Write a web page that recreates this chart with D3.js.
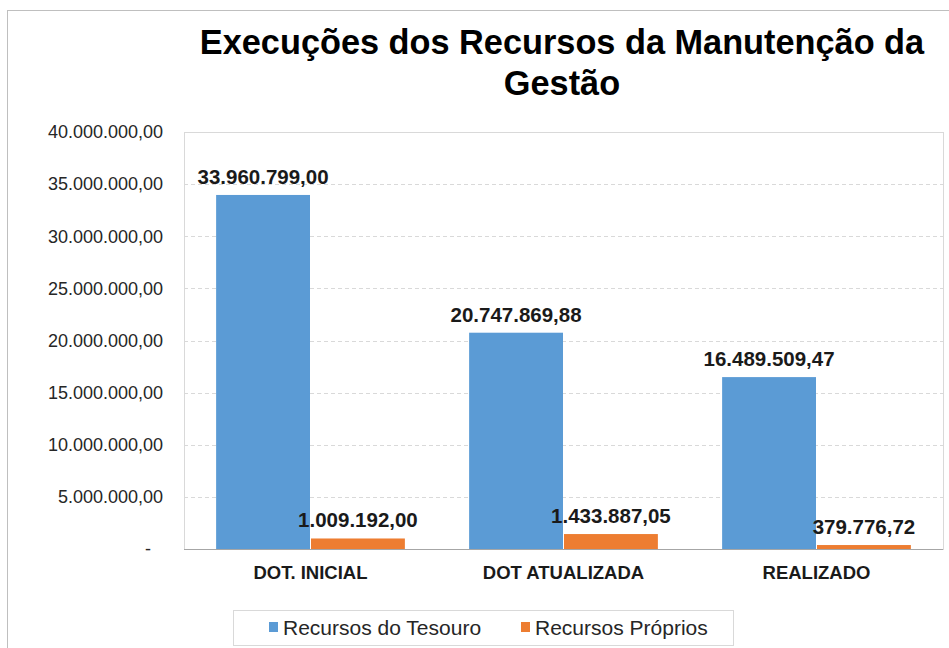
<!DOCTYPE html>
<html>
<head>
<meta charset="utf-8">
<script src="https://cdn.jsdelivr.net/npm/d3@7"></script>
<style>
  body { margin: 0; background: #fff; }
  text { font-family: "Liberation Sans", Arial, sans-serif; }
</style>
</head>
<body>
<div id="chart"></div>
<script>
// dados do gráfico
const categories = ["DOT. INICIAL", "DOT ATUALIZADA", "REALIZADO"];
const seriesNames = ["Recursos do Tesouro", "Recursos Próprios"];
const tesouro = [33960799.00, 20747869.88, 16489509.47];
const proprios = [1009192.00, 1433887.05, 379776.72];
const yTicks = [0, 5000000, 10000000, 15000000, 20000000, 25000000, 30000000, 35000000, 40000000];
const titleLines = ["Execuções dos Recursos da Manutenção da", "Gestão"];

const colors = { "Recursos do Tesouro": "#5b9bd5", "Recursos Próprios": "#ed7d31" };

const ptBR = d3.formatLocale({ decimal: ",", thousands: ".", grouping: [3], currency: ["R$", ""] });
const fmt = ptBR.format(",.2f");

const W = 949, H = 648;
const plot = { left: 184, right: 943, top: 132, bottom: 549 };

const svg = d3.select("#chart").append("svg")
    .attr("width", W)
    .attr("height", H);

// borda externa
svg.append("rect")
    .attr("x", 7.5).attr("y", 10.5)
    .attr("width", W + 20).attr("height", H + 20)
    .attr("fill", "none")
    .attr("stroke", "#bfbfbf");

// título
svg.append("text")
    .attr("text-anchor", "middle")
    .style("font-size", "34.3px")
    .style("font-weight", "bold")
    .attr("fill", "#000")
    .selectAll("tspan")
    .data(titleLines)
    .enter()
    .append("tspan")
    .attr("x", 562)
    .attr("y", (d, i) => 54 + i * 41)
    .text(d => d);

const data = categories.map((c, i) => ({
    category: c,
    values: [
        { name: seriesNames[0], value: tesouro[i] },
        { name: seriesNames[1], value: proprios[i] }
    ]
}));

const x0 = d3.scaleBand()
    .domain(categories)
    .range([plot.left, plot.right])
    .padding(0);

const bw = x0.bandwidth();
const x1 = d3.scaleBand()
    .domain(seriesNames)
    .range([bw * 0.125, bw * 0.875])
    .padding(0);

const y = d3.scaleLinear()
    .domain([0, 40000000])
    .range([plot.bottom, plot.top]);

// linhas de grade
svg.append("g")
    .selectAll("line")
    .data(yTicks.filter(d => d > 0))
    .enter()
    .append("line")
    .attr("x1", plot.left)
    .attr("x2", plot.right)
    .attr("y1", d => Math.round(y(d)) + 0.5)
    .attr("y2", d => Math.round(y(d)) + 0.5)
    .attr("stroke", "#d9d9d9")
    .attr("stroke-dasharray", "4,3");

// borda da área de plotagem
svg.append("rect")
    .attr("x", plot.left + 0.5)
    .attr("y", plot.top + 0.5)
    .attr("width", plot.right - plot.left)
    .attr("height", plot.bottom - plot.top)
    .attr("fill", "none")
    .attr("stroke", "#d9d9d9");

// eixo Y
const yAxis = svg.append("g")
    .attr("transform", `translate(${plot.left}, 0)`)
    .call(d3.axisLeft(y)
        .tickValues(yTicks)
        .tickSize(0)
        .tickPadding(21)
        .tickFormat(d => d === 0 ? "-" : fmt(d)));
yAxis.select(".domain").remove();
yAxis.selectAll("text")
    .style("font-family", "'Liberation Sans', Arial, sans-serif")
    .style("font-size", "18px")
    .attr("fill", "#262626")
    .filter(d => d === 0)
    .attr("dx", -12);

// barras
const groups = svg.selectAll("g.cat")
    .data(data)
    .enter()
    .append("g")
    .attr("class", "cat")
    .attr("transform", d => `translate(${x0(d.category)}, 0)`);

groups.selectAll("rect")
    .data(d => d.values)
    .enter()
    .append("rect")
    .attr("x", d => x1(d.name) + 0.5)
    .attr("y", d => y(d.value))
    .attr("width", x1.bandwidth() - 1)
    .attr("height", d => y(0) - y(d.value))
    .attr("fill", d => colors[d.name]);

// rótulos de valor
groups.selectAll("text.value")
    .data(d => d.values)
    .enter()
    .append("text")
    .attr("class", "value")
    .attr("x", d => x1(d.name) + x1.bandwidth() / 2)
    .attr("y", d => y(d.value) - 11)
    .attr("text-anchor", "middle")
    .style("font-size", "20.5px")
    .style("font-weight", "bold")
    .attr("fill", "#1a1a1a")
    .text(d => fmt(d.value));

// linha base
svg.append("line")
    .attr("x1", plot.left)
    .attr("x2", plot.right)
    .attr("y1", plot.bottom + 0.5)
    .attr("y2", plot.bottom + 0.5)
    .attr("stroke", "#a6a6a6")
    .attr("stroke-width", 1.2);

// eixo X
const xAxis = svg.append("g")
    .attr("transform", `translate(0, ${plot.bottom})`)
    .call(d3.axisBottom(x0).tickSize(0).tickPadding(17));
xAxis.select(".domain").remove();
xAxis.selectAll("text")
    .style("font-family", "'Liberation Sans', Arial, sans-serif")
    .style("font-size", "18.5px")
    .style("font-weight", "bold")
    .attr("fill", "#1a1a1a");

// legenda
const legend = svg.append("g").attr("class", "legend");
legend.append("rect")
    .attr("x", 233.5).attr("y", 610.5)
    .attr("width", 500).attr("height", 35)
    .attr("fill", "#fff")
    .attr("stroke", "#d9d9d9");

const legendX = [269, 521];
seriesNames.forEach((name, i) => {
    const item = legend.append("g")
        .attr("transform", `translate(${legendX[i]}, 0)`);
    item.append("rect")
        .attr("x", 0).attr("y", 622)
        .attr("width", 9).attr("height", 10)
        .attr("fill", colors[name]);
    item.append("text")
        .attr("x", 14)
        .attr("y", 635)
        .style("font-size", "21px")
        .attr("fill", "#262626")
        .text(name);
});
</script>
</body>
</html>
